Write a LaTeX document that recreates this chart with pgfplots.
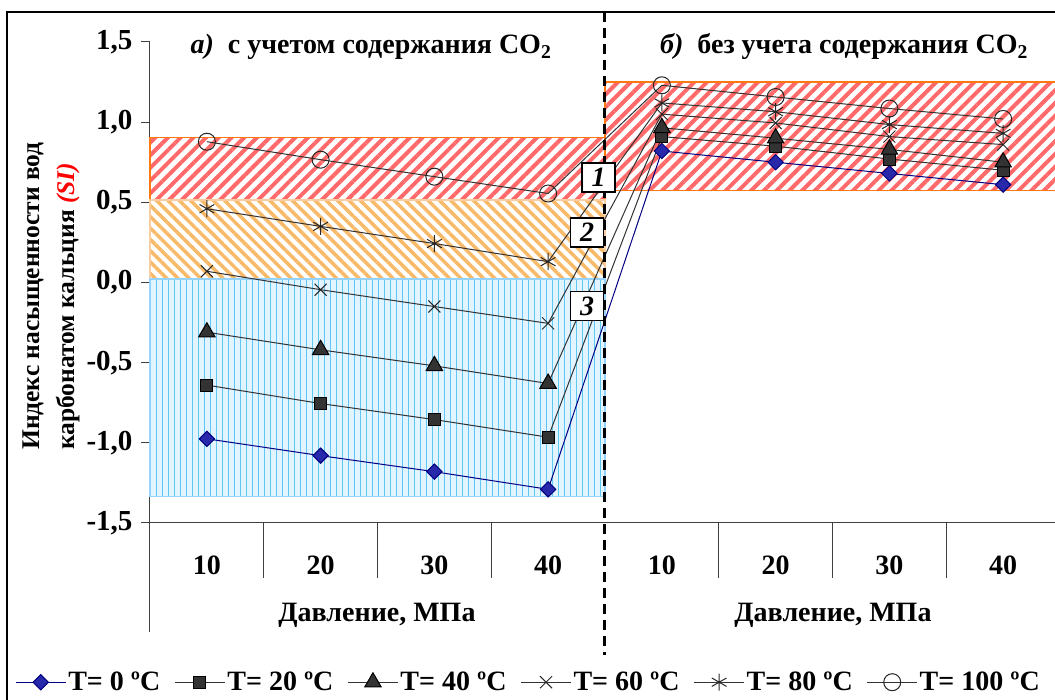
\documentclass[border=0pt]{standalone}
\usepackage{fontspec}
\setmainfont{Liberation Serif}
\usepackage{pgfplots}
\pgfplotsset{compat=1.18}
\usetikzlibrary{patterns.meta}
\definecolor{navyT}{RGB}{0,0,128}
\definecolor{navyM}{RGB}{40,40,170}
\definecolor{stripered}{RGB}{255,105,105}
\definecolor{stripeorange}{RGB}{248,185,105}
\definecolor{borderorange}{RGB}{255,120,20}
\definecolor{borderpeach}{RGB}{250,205,160}
\definecolor{bluelines}{RGB}{95,200,240}
\definecolor{bluefill}{RGB}{225,244,255}
\definecolor{blueborder}{RGB}{150,210,250}
\newcommand{\bigf}{\fontsize{28}{32}\selectfont\bfseries}
\begin{document}
\begin{tikzpicture}
\path[use as bounding box, clip] (-150pt,-177pt) rectangle (905pt,523pt);
\draw[line width=1.5pt] (-143pt,511pt) rectangle (930pt,-230pt);
\begin{axis}[at={(0pt,0pt)}, anchor=south west, scale only axis,
  width=910pt, height=481pt,
  xmin=0, xmax=8, ymin=-1.5, ymax=1.5, clip=false,
  axis x line*=bottom, axis y line*=left,
  axis line style={line width=1pt, black!75},
  /pgf/number format/assume math mode=true,
  ytick={-1.5,-1,-0.5,0,0.5,1,1.5},
  tick align=outside, major tick length=9pt,
  ytick style={line width=1pt, black!75},
  yticklabel style={font=\fontsize{29}{32}\selectfont\bfseries, xshift=-5pt, /pgf/number format/fixed, /pgf/number format/fixed zerofill, /pgf/number format/precision=1, /pgf/number format/use comma},
  xtick={0.5,1.5,2.5,3.5,4.5,5.5,6.5,7.5},
  xticklabels={10,20,30,40,10,20,30,40},
  xtick style={draw=none},
  xticklabel style={font=\bigf, yshift=-20pt},
  legend columns=6,
  legend style={at={(0.416,-0.331)}, anchor=center, draw=none, fill=none, font=\bigf,
    /tikz/every even column/.append style={column sep=12pt}},
  legend image code/.code={\draw[mark repeat=2,mark phase=2,#1] plot coordinates {(0pt,0pt) (25pt,0pt) (50pt,0pt)};},
]
% zones
\fill[pattern={Lines[angle=45,distance=9pt,line width=4pt]}, pattern color=stripered] (axis cs:0,0.515) rectangle (axis cs:4,0.903);
\draw[borderorange, line width=1.5pt] (axis cs:0,0.515) rectangle (axis cs:4,0.903);
\fill[pattern={Lines[angle=-45,distance=8pt,line width=3.5pt]}, pattern color=stripeorange] (axis cs:0,0.022) rectangle (axis cs:4,0.515);
\draw[borderpeach, line width=1.5pt] (axis cs:0,0.022) rectangle (axis cs:4,0.515);
\fill[bluefill] (axis cs:0,-1.335) rectangle (axis cs:4,0.022);
\fill[pattern={Lines[angle=90,distance=6pt,line width=1pt]}, pattern color=bluelines] (axis cs:0,-1.335) rectangle (axis cs:4,0.022);
\draw[blueborder, line width=1.5pt] (axis cs:0,-1.335) rectangle (axis cs:4,0.022);
\fill[pattern={Lines[angle=45,distance=9pt,line width=4pt]}, pattern color=stripered] (axis cs:4,0.573) rectangle (axis cs:8.1,1.252);
\draw[borderorange, line width=1.5pt] (axis cs:4,0.573) rectangle (axis cs:8.1,1.252);
% separators
\pgfplotsinvokeforeach{1,2,3,5,6,7}{\draw[line width=1pt, black!75] (axis cs:#1,-1.5) -- ++(0pt,-55pt);}
\pgfplotsinvokeforeach{0,8}{\draw[line width=1pt, black!75] (axis cs:#1,-1.5) -- ++(0pt,-109pt);}
% series
\addplot[navyT, line width=1pt, mark=square*, mark size=5.4pt, mark options={rotate=45, fill=navyM, draw=navyT}]
 coordinates {(0.5,-0.975) (1.5,-1.08) (2.5,-1.18) (3.5,-1.29) (4.5,0.82) (5.5,0.75) (6.5,0.68) (7.5,0.61)};
\addlegendentry{T= 0 ºC}
\addplot[black!80, line width=1pt, mark=square*, mark size=6pt, mark options={fill=black!80, draw=black}]
 coordinates {(0.5,-0.64) (1.5,-0.755) (2.5,-0.855) (3.5,-0.965) (4.5,0.91) (5.5,0.85) (6.5,0.77) (7.5,0.70)};
\addlegendentry{T= 20 ºC}
\addplot[black!80, line width=1pt, mark=triangle*, mark size=9.5pt, mark options={fill=black!80, draw=black}]
 coordinates {(0.5,-0.31) (1.5,-0.42) (2.5,-0.52) (3.5,-0.63) (4.5,0.965) (5.5,0.90) (6.5,0.83) (7.5,0.75)};
\addlegendentry{T= 40 ºC}
\addplot[black!80, line width=1pt, mark=x, mark size=8.5pt, mark options={draw=black!85, line width=1pt}]
 coordinates {(0.5,0.07) (1.5,-0.045) (2.5,-0.15) (3.5,-0.255) (4.5,1.05) (5.5,0.995) (6.5,0.91) (7.5,0.86)};
\addlegendentry{T= 60 ºC}
\addplot[black!80, line width=1pt, mark=asterisk, mark size=8.5pt, mark options={draw=black!85, line width=1pt}]
 coordinates {(0.5,0.46) (1.5,0.35) (2.5,0.243) (3.5,0.13) (4.5,1.12) (5.5,1.065) (6.5,0.985) (7.5,0.93)};
\addlegendentry{T= 80 ºC}
\addplot[black!80, line width=1pt, mark=o, mark size=8.5pt, mark options={fill=white, draw=black!85, line width=1pt}]
 coordinates {(0.5,0.878) (1.5,0.766) (2.5,0.66) (3.5,0.555) (4.5,1.23) (5.5,1.157) (6.5,1.085) (7.5,1.02)};
\addlegendentry{T= 100 ºC}
\end{axis}
% dashed divider
\draw[line width=3pt, dash pattern=on 10pt off 6pt] (454pt,511pt) -- (454pt,-132pt);
% number boxes
\node[draw, line width=1.8pt, fill=white, inner sep=0pt, minimum width=33pt, minimum height=29pt, font=\fontsize{28}{30}\selectfont\bfseries\itshape] at (448.5pt,345.5pt) {1};
\node[draw, line width=1.8pt, fill=white, inner sep=0pt, minimum width=33pt, minimum height=29pt, font=\fontsize{28}{30}\selectfont\bfseries\itshape] at (437pt,290.5pt) {2};
\node[draw, line width=1.8pt, fill=white, inner sep=0pt, minimum width=33pt, minimum height=29pt, font=\fontsize{28}{30}\selectfont\bfseries\itshape] at (437pt,217pt) {3};
% titles
\node[font=\bigf] at (221pt,476pt) {\textit{а)}\enspace с учетом содержания CO\textsubscript{2}};
\node[font=\bigf] at (694pt,476pt) {\textit{б)}\enspace без учета содержания CO\textsubscript{2}};
% group labels
\node[font=\bigf] at (227pt,-92pt) {Давление, МПа};
\node[font=\bigf] at (683pt,-92pt) {Давление, МПа};
% y label
\node[rotate=90, align=left, font=\fontsize{25.5}{35}\selectfont\bfseries] at (-99pt,227pt) {Индекс насыщенности вод\\карбонатом кальция \textcolor{red}{\itshape (SI)}};
\end{tikzpicture}
\end{document}
